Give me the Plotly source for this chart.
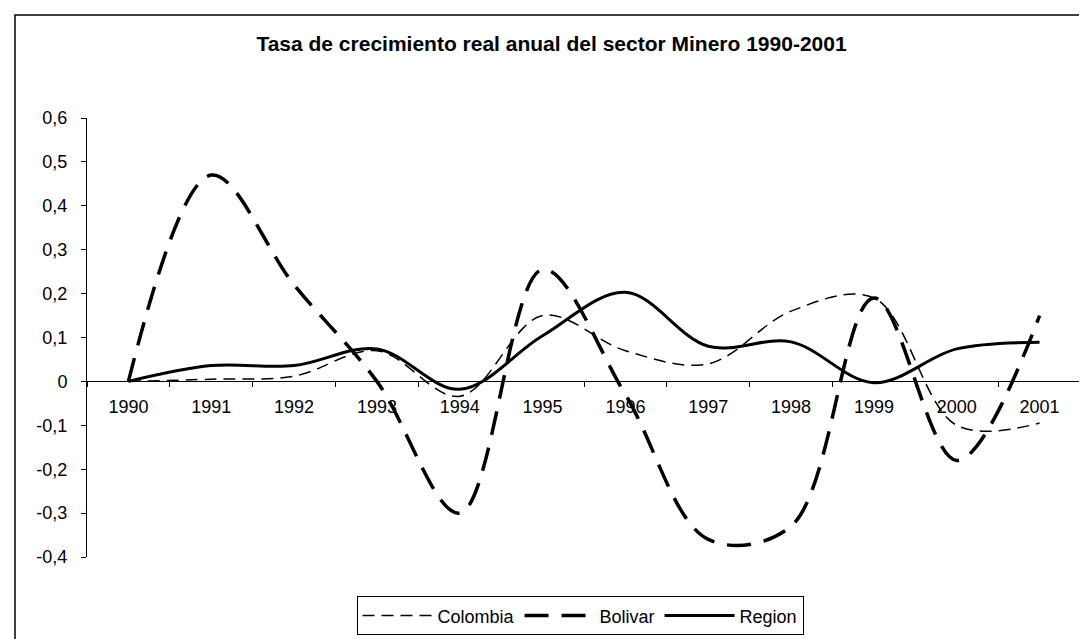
import plotly.graph_objects as go

years = ["1990", "1991", "1992", "1993", "1994", "1995", "1996", "1997", "1998", "1999", "2000", "2001"]
colombia = [0.0, 0.005, 0.012, 0.07, -0.034, 0.15, 0.07, 0.04, 0.16, 0.19, -0.10, -0.095]
bolivar = [0.0, 0.47, 0.22, 0.0, -0.30, 0.255, -0.03, -0.36, -0.33, 0.19, -0.18, 0.15]
region = [0.0, 0.036, 0.036, 0.074, -0.018, 0.104, 0.203, 0.08, 0.09, -0.003, 0.074, 0.089]

ytick_vals = [-0.4, -0.3, -0.2, -0.1, 0, 0.1, 0.2, 0.3, 0.4, 0.5, 0.6]
ytick_text = ["-0,4", "-0,3", "-0,2", "-0,1", "0", "0,1", "0,2", "0,3", "0,4", "0,5", "0,6"]

title_text = "Tasa de crecimiento real anual del sector Minero 1990-2001"

FONT = "Liberation Sans, Arial, sans-serif"

fig = go.Figure()
fig.add_trace(go.Scatter(x=years, y=colombia, name="Colombia", mode="lines",
                         line=dict(color="black", width=1.5, dash="12px,7px", shape="spline", smoothing=1)))
fig.add_trace(go.Scatter(x=years, y=bolivar, name="Bolivar", mode="lines",
                         line=dict(color="black", width=3.5, dash="24px,13px", shape="spline", smoothing=1)))
fig.add_trace(go.Scatter(x=years, y=region, name="Region", mode="lines",
                         line=dict(color="black", width=3, shape="spline", smoothing=1)))

L, R, T, B = 79, 1073, 110, 557
W, H = 1087, 639
pw, ph = R - L, B - T

fig.update_layout(
    width=W, height=H,
    margin=dict(l=L, r=W - R, t=T, b=H - B),
    paper_bgcolor="white", plot_bgcolor="white",
    font=dict(family=FONT, size=18, color="black"),
    title=dict(text="<b>" + title_text + "</b>", x=0.5, xref="container", xanchor="center",
               y=1 - 36 / H, yref="container", yanchor="middle",
               font=dict(family=FONT, size=21, color="black")),
    showlegend=True,
    legend=dict(orientation="h", x=(572 - L) / pw, xanchor="center",
                y=(B - 597) / ph, yanchor="top",
                bordercolor="black", borderwidth=1, bgcolor="white",
                itemwidth=70, font=dict(family=FONT, size=18),
                tracegroupgap=0),
    xaxis=dict(type="category", range=[-0.5, 11.5], anchor="free", position=0.4,
               showline=True, linecolor="black", linewidth=1,
               ticks="outside", tickson="boundaries", ticklen=5, tickcolor="black",
               showgrid=False, zeroline=False, ticklabelstandoff=9,
               tickfont=dict(family=FONT, size=18)),
    yaxis=dict(range=[-0.4, 0.6], tickvals=ytick_vals, ticktext=ytick_text,
               showline=True, linecolor="black", linewidth=1,
               ticks="outside", ticklen=5, tickcolor="black",
               showgrid=False, zeroline=False, ticklabelstandoff=10,
               tickfont=dict(family=FONT, size=18)),
)

fig.add_shape(type="rect", xref="paper", yref="paper",
              x0=(7 - L) / pw, x1=(1081 - L) / pw, y0=(B - 650) / ph, y1=(B - 5) / ph,
              line=dict(color="black", width=1.5), layer="below")

fig.write_html("out.html")
